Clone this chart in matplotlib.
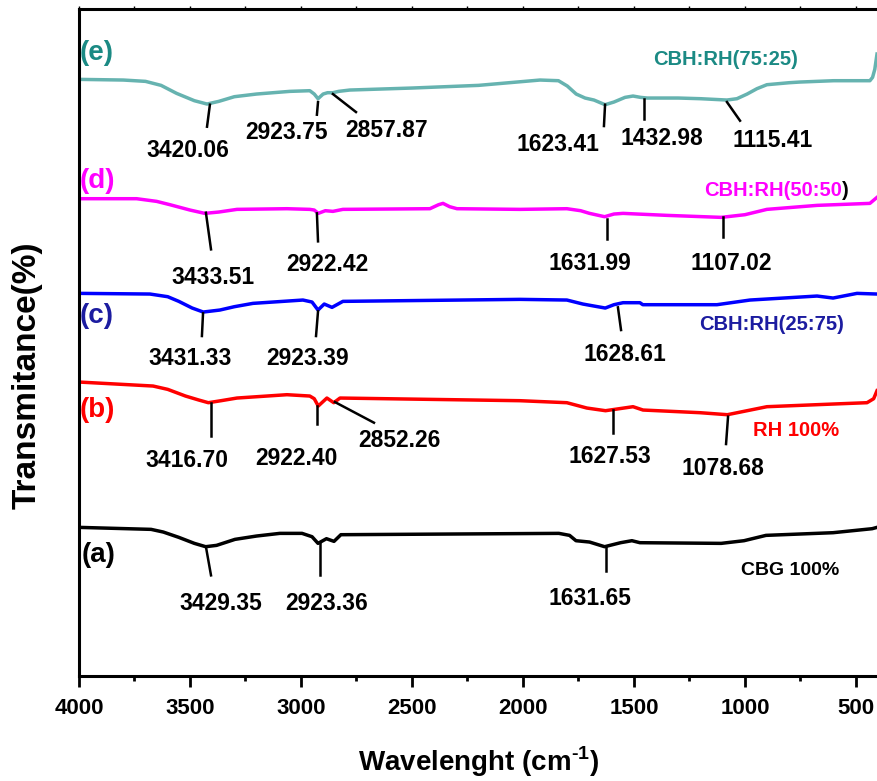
import matplotlib
matplotlib.use("Agg")
import matplotlib.pyplot as plt
from matplotlib.ticker import MultipleLocator

plt.rcParams['font.family'] = ['Liberation Sans', 'DejaVu Sans']
plt.rcParams['font.weight'] = 'bold'
plt.rcParams['mathtext.fontset'] = 'custom'
plt.rcParams['mathtext.rm'] = 'Liberation Sans:bold'
plt.rcParams['mathtext.bf'] = 'Liberation Sans:bold'

# spectra (wavenumber, offset transmittance)
wn_e = [4000, 3800, 3700, 3630, 3560, 3480, 3423, 3370, 3300, 3200, 3050, 2960, 2940, 2923, 2900,
        2880, 2856, 2830, 2780, 2500, 2200, 1923, 1840, 1800, 1760, 1720, 1680, 1630, 1590, 1540,
        1504, 1470, 1440, 1300, 1200, 1081, 1036, 990, 946, 901, 800, 752, 600, 437, 425, 415, 405]
t_e = [89.5, 89.4, 89.2, 88.6, 87.4, 86.3, 85.8, 86.2, 86.9, 87.3, 87.7, 87.8, 87.3, 86.6, 87.3,
       87.5, 87.5, 87.7, 87.9, 88.2, 88.6, 89.4, 89.3, 88.5, 87.3, 86.7, 86.4, 85.7, 86.1, 86.8,
       87.0, 86.8, 86.7, 86.7, 86.6, 86.4, 86.6, 87.3, 88.1, 88.7, 89.0, 89.1, 89.3, 89.3, 89.8, 91.0, 93.3]

wn_d = [4000, 3740, 3650, 3590, 3500, 3433, 3370, 3288, 3063, 2960, 2940, 2922, 2890, 2856, 2811,
        2419, 2380, 2360, 2330, 2297, 2013, 1802, 1740, 1700, 1632, 1590, 1549, 1351, 1107, 1000,
        901, 675, 437, 405]
t_d = [71.6, 71.6, 71.2, 70.7, 69.9, 69.4, 69.6, 70.0, 70.1, 70.0, 69.9, 69.4, 69.8, 69.7, 70.0,
       70.1, 70.7, 70.9, 70.4, 70.1, 70.0, 70.1, 69.8, 69.4, 68.9, 69.3, 69.4, 69.1, 68.8, 69.2,
       70.0, 70.6, 70.9, 71.8]

wn_c = [4000, 3680, 3600, 3550, 3490, 3440, 3365, 3300, 3216, 2991, 2950, 2923, 2895, 2860, 2811,
        2013, 1802, 1730, 1680, 1629, 1590, 1549, 1473, 1460, 1126, 977, 675, 603, 495, 405]
t_c = [57.4, 57.3, 56.9, 56.2, 55.2, 54.6, 54.9, 55.4, 55.9, 56.4, 56.1, 54.9, 55.8, 55.3, 56.2,
       56.5, 56.4, 55.8, 55.5, 55.2, 55.7, 56.0, 56.0, 55.7, 55.7, 56.4, 57.0, 56.7, 57.4, 57.3]

wn_b = [4000, 3666, 3600, 3520, 3460, 3417, 3360, 3288, 3063, 2960, 2940, 2922, 2883, 2852, 2824,
        2013, 1802, 1712, 1628, 1504, 1459, 1202, 1079, 990, 901, 603, 450, 420, 405]
t_b = [44.1, 43.5, 43.0, 42.0, 41.4, 41.0, 41.3, 41.7, 42.2, 42.0, 41.6, 40.5, 41.7, 41.0, 41.7,
       41.3, 41.0, 40.2, 39.8, 40.4, 39.9, 39.5, 39.2, 39.8, 40.4, 40.8, 41.0, 41.6, 42.8]

wn_a = [4000, 3675, 3620, 3550, 3480, 3429, 3380, 3297, 3200, 3095, 2995, 2950, 2923, 2885, 2851,
        2820, 1838, 1790, 1761, 1700, 1632, 1560, 1509, 1473, 1107, 1004, 905, 603, 427, 405]
t_a = [22.3, 22.0, 21.6, 20.8, 19.9, 19.4, 19.6, 20.5, 21.0, 21.4, 21.4, 20.9, 19.9, 20.6, 20.2,
       21.2, 21.4, 21.1, 20.3, 20.1, 19.4, 20.0, 20.3, 20.0, 19.9, 20.3, 21.1, 21.5, 22.1, 22.3]

# peak labels: text, leader start (wn, T), leader end (wn, T), label centre (wn, T)
peaks = [
    ("3420.06", (3410, 85.7), (3423, 82.4), (3509, 78.9)),
    ("2923.75", (2923, 86.1), (2928, 84.2), (3063, 81.6)),
    ("2857.87", (2856, 87.3), (2752, 84.6), (2612, 81.8)),
    ("1623.41", (1630, 85.7), (1635, 82.5), (1842, 79.8)),
    ("1432.98", (1455, 86.6), (1455, 83.6), (1374, 80.6)),
    ("1115.41", (1081, 86.1), (1022, 83.3), (874, 80.4)),
    ("3433.51", (3428, 69.5), (3405, 64.0), (3396, 59.8)),
    ("2922.42", (2928, 69.4), (2923, 65.2), (2883, 61.7)),
    ("1631.99", (1621, 68.6), (1621, 65.6), (1698, 61.9)),
    ("1107.02", (1099, 68.8), (1099, 65.9), (1063, 61.9)),
    ("3431.33", (3441, 54.4), (3446, 51.0), (3500, 47.7)),
    ("2923.39", (2923, 54.7), (2932, 51.0), (2968, 47.7)),
    ("1628.61", (1572, 55.3), (1558, 51.9), (1540, 48.3)),
    ("3416.70", (3405, 41.0), (3405, 36.0), (3513, 32.3)),
    ("2922.40", (2928, 40.5), (2928, 37.8), (3018, 32.6)),
    ("2852.26", (2847, 41.1), (2671, 38.0), (2554, 35.3)),
    ("1627.53", (1594, 39.9), (1594, 36.5), (1608, 33.0)),
    ("1078.68", (1076, 38.9), (1085, 34.8), (1099, 31.1)),
    ("3429.35", (3428, 19.4), (3405, 15.1), (3360, 10.9)),
    ("2923.36", (2914, 19.9), (2914, 15.1), (2883, 10.9)),
    ("1631.65", (1626, 19.4), (1626, 15.8), (1698, 11.7)),
]

teal_line = '#66b3b0'
teal_text = '#1b8a84'
navy = '#1c1ca0'

fig = plt.figure(figsize=(8.77, 7.81), dpi=100)
ax = fig.add_axes([0.090, 0.1344, 0.910, 0.8536])

ax.plot(wn_a, t_a, color='black', lw=2.5, solid_joinstyle='round')
ax.plot(wn_b, t_b, color='#ff0000', lw=2.5, solid_joinstyle='round')
ax.plot(wn_c, t_c, color='#0000ff', lw=2.5, solid_joinstyle='round')
ax.plot(wn_d, t_d, color='#ff00ff', lw=2.5, solid_joinstyle='round')
ax.plot(wn_e, t_e, color=teal_line, lw=2.5, solid_joinstyle='round')

for txt, p0, p1, lab in peaks:
    ax.plot([p0[0], p1[0]], [p0[1], p1[1]], color='black', lw=1.8)
    ax.text(lab[0], lab[1], txt, ha='center', va='center', fontsize=16.5, fontweight='bold')

# series letters
ax.text(3995, 93.4, '(e)', color=teal_text, fontsize=20, va='center', ha='left')
ax.text(3995, 74.3, '(d)', color='#ff00ff', fontsize=20, va='center', ha='left')
ax.text(3995, 54.0, '(c)', color=navy, fontsize=20, va='center', ha='left')
ax.text(3995, 39.9, '(b)', color='#ff0000', fontsize=20, va='center', ha='left')
ax.text(3990, 18.1, '(a)', color='black', fontsize=20, va='center', ha='left')

# sample names
ax.text(1085, 92.5, 'CBH:RH(75:25)', color=teal_text, fontsize=14.5, ha='center', va='center')
t50 = ax.text(1185, 72.0, 'CBH:RH(50:50', color='#ff00ff', fontsize=14.5, ha='left', va='baseline')
ax.annotate(')', xy=(1, 0), xycoords=t50, color='black', fontsize=14.5, ha='left', va='bottom')
ax.text(1205, 52.8, 'CBH:RH(25:75)', color=navy, fontsize=14.5, ha='left', va='center')
ax.text(964, 36.8, 'RH 100%', color='#ff0000', fontsize=14.5, ha='left', va='center')
ax.text(1018, 15.8, 'CBG 100%', color='black', fontsize=14, ha='left', va='center')

ax.set_xlim(4000, 405)
ax.set_ylim(0, 100)
ax.xaxis.set_major_locator(MultipleLocator(500))
ax.xaxis.set_minor_locator(MultipleLocator(250))
ax.set_yticks([])
ax.tick_params(axis='x', which='major', direction='out', length=8, width=2,
               labelsize=16, pad=8)
ax.tick_params(axis='x', which='minor', direction='out', length=3.5, width=2)
ax.tick_params(axis='x', which='both', top=True, labeltop=False)
for tk in ax.xaxis.get_major_ticks() + ax.xaxis.get_minor_ticks():
    tk.tick2line.set_markersize(2.5)
    tk.tick2line.set_markeredgewidth(1)
    tk.tick2line.set_color('#999999')
for lab in ax.get_xticklabels():
    lab.set_fontweight('bold')

for side in ['left', 'bottom', 'top']:
    ax.spines[side].set_linewidth(2.2)
ax.spines['right'].set_visible(False)

ax.set_xlabel(r'Wavelenght (cm$^{\text{-}1}$)', fontsize=20, fontweight='bold')
ax.xaxis.set_label_coords(0.501, -0.103)
ax.xaxis.label.set_va('top')
ax.set_ylabel('Transmitance(%)', fontsize=24, fontweight='bold')
ax.yaxis.set_label_coords(-0.046, 0.451)

fig.savefig('out.png', dpi=100)
